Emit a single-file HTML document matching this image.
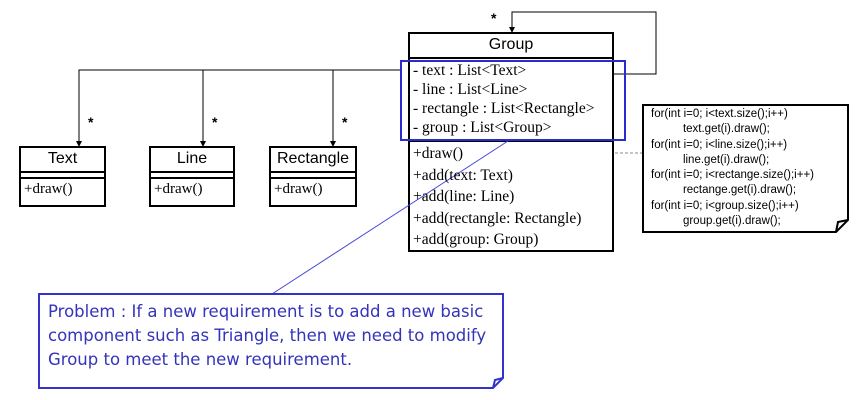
<!DOCTYPE html>
<html><head><style>
body{margin:0;background:#fff;width:865px;height:400px;overflow:hidden;position:relative;font-family:"Liberation Serif",serif}
.t{position:absolute;white-space:nowrap}
.s{font-family:"Liberation Sans",sans-serif}
</style></head><body>
<svg width="865" height="400" style="position:absolute;left:0;top:0">
<g fill="none" stroke="#000" stroke-width="1">
<polyline points="401,70 79,70 79,145"/>
<line x1="203" y1="70" x2="203" y2="145"/>
<line x1="333" y1="70" x2="333" y2="145"/>
<polyline points="613,74 656,74 656,12 512,12 512,31"/>
<line x1="595" y1="153" x2="643" y2="153" stroke="#888" stroke-dasharray="3,2"/>
</g>
<g fill="#000">
<polygon points="76,141 82,141 79,147"/>
<polygon points="200,141 206,141 203,147"/>
<polygon points="330,141 336,141 333,147"/>
<polygon points="509,27 515,27 512,33"/>
</g>
<g fill="#fff" stroke="#000" stroke-width="2">
<rect x="20" y="147" width="85" height="59"/>
<rect x="150" y="147" width="84" height="59"/>
<rect x="270" y="147" width="86" height="59"/>
<rect x="409" y="33" width="204" height="218"/>
</g>
<g stroke="#000" stroke-width="2">
<line x1="20" y1="172" x2="105" y2="172"/><line x1="20" y1="178" x2="105" y2="178"/>
<line x1="150" y1="172" x2="234" y2="172"/><line x1="150" y1="178" x2="234" y2="178"/>
<line x1="270" y1="172" x2="356" y2="172"/><line x1="270" y1="178" x2="356" y2="178"/>
<line x1="409" y1="58" x2="613" y2="58"/><line x1="409" y1="141" x2="613" y2="141"/>
</g>
<rect x="401" y="61" width="224" height="79" fill="none" stroke="#2a2ad0" stroke-width="2"/>
<path d="M643,105 H848 V220 L836,232 H643 Z" fill="#fff" stroke="#000" stroke-width="2"/>
<path d="M836,232 L838,222 L848,220" fill="none" stroke="#000" stroke-width="2"/>
<line x1="272" y1="294" x2="508" y2="141" stroke="#4444dd" stroke-width="1"/>
<path d="M39,294 H503 V378 L493,388 H39 Z" fill="#fff" stroke="#3333cc" stroke-width="2"/>
<path d="M493,388 L495,380 L503,378" fill="none" stroke="#3333cc" stroke-width="2"/>
</svg>
<div class="t s" style="left:20px;width:85px;text-align:center;top:150px;font-size:16px">Text</div>
<div class="t s" style="left:150px;width:84px;text-align:center;top:150px;font-size:16px">Line</div>
<div class="t s" style="left:270px;width:86px;text-align:center;top:150px;font-size:16px">Rectangle</div>
<div class="t" style="left:24px;top:181px;font-size:15px">+draw()</div>
<div class="t" style="left:154px;top:181px;font-size:15px">+draw()</div>
<div class="t" style="left:274px;top:181px;font-size:15px">+draw()</div>
<div class="t s" style="left:409px;width:204px;text-align:center;top:36px;font-size:16px">Group</div>
<div class="t s" style="left:88px;top:114px;font-size:14px;font-weight:bold">*</div>
<div class="t s" style="left:212px;top:114px;font-size:14px;font-weight:bold">*</div>
<div class="t s" style="left:342px;top:114px;font-size:14px;font-weight:bold">*</div>
<div class="t s" style="left:491px;top:10px;font-size:14px;font-weight:bold">*</div>
<div class="t" style="left:413px;top:61px;font-size:15.5px;line-height:19px">- text : List&lt;Text&gt;<br>- line : List&lt;Line&gt;<br>- rectangle : List&lt;Rectangle&gt;<br>- group : List&lt;Group&gt;</div>
<div class="t" style="left:413px;top:143px;font-size:15.5px;line-height:21.5px">+draw()<br>+add(text: Text)<br>+add(line: Line)<br>+add(rectangle: Rectangle)<br>+add(group: Group)</div>
<div class="t s" style="left:651px;top:107px;font-size:11.5px;line-height:15.3px">for(int i=0; i&lt;text.size();i++)<br>&nbsp;&nbsp;&nbsp;&nbsp;&nbsp;&nbsp;&nbsp;&nbsp;&nbsp;&nbsp;text.get(i).draw();<br>for(int i=0; i&lt;line.size();i++)<br>&nbsp;&nbsp;&nbsp;&nbsp;&nbsp;&nbsp;&nbsp;&nbsp;&nbsp;&nbsp;line.get(i).draw();<br>for(int i=0; i&lt;rectange.size();i++)<br>&nbsp;&nbsp;&nbsp;&nbsp;&nbsp;&nbsp;&nbsp;&nbsp;&nbsp;&nbsp;rectange.get(i).draw();<br>for(int i=0; i&lt;group.size();i++)<br>&nbsp;&nbsp;&nbsp;&nbsp;&nbsp;&nbsp;&nbsp;&nbsp;&nbsp;&nbsp;group.get(i).draw();</div>
<div class="t" style="left:48px;top:300px;font-family:'DejaVu Sans',sans-serif;font-size:16.5px;line-height:24px;color:#3333bb">Problem : If a new requirement is to add a new basic<br>component such as Triangle, then we need to modify<br>Group to meet the new requirement.</div>
</body></html>
